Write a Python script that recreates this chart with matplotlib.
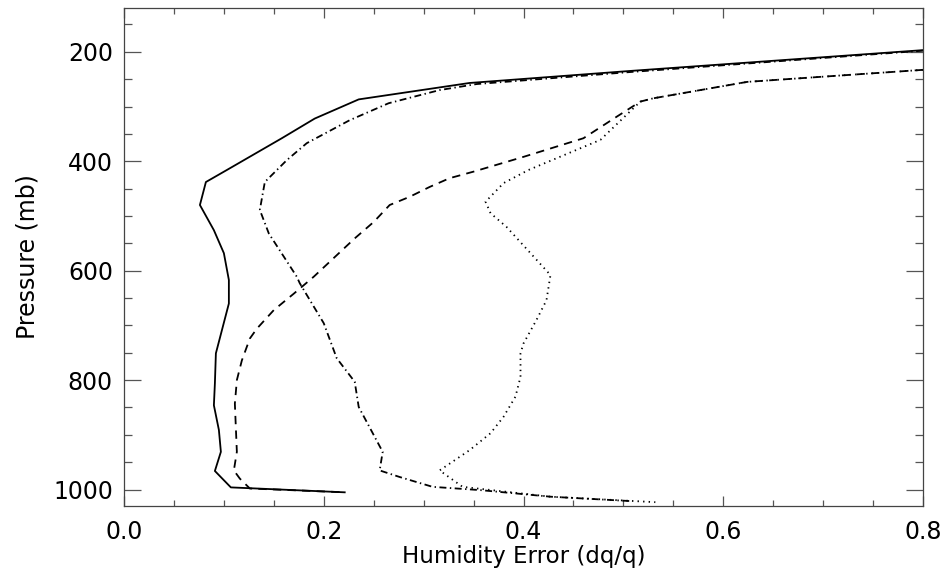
import matplotlib
matplotlib.use("Agg")
import matplotlib.pyplot as plt
from matplotlib.ticker import MultipleLocator, FormatStrFormatter

plt.rcParams['font.family'] = ['DejaVu Sans']
plt.rcParams['lines.scale_dashes'] = False

# Solid
solid_x = [0.800, 0.507, 0.346, 0.235, 0.191, 0.158, 0.103, 0.082, 0.076, 0.090, 0.100,
           0.105, 0.105, 0.092, 0.091, 0.090, 0.095, 0.097, 0.091, 0.107, 0.221]
solid_p = [197, 235, 257, 287, 322, 358, 416, 438, 480, 526, 568,
           617, 660, 751, 806, 846, 891, 931, 966, 996, 1005]

# Dash-dot
dashdot_x = [0.800, 0.507, 0.353, 0.316, 0.265, 0.226, 0.183, 0.163, 0.141, 0.136, 0.145,
             0.173, 0.176, 0.200, 0.213, 0.231, 0.235, 0.259, 0.256, 0.276, 0.309, 0.357,
             0.427, 0.507]
dashdot_p = [198, 237, 259, 270, 294, 325, 367, 398, 438, 489, 532,
             611, 623, 696, 760, 803, 849, 931, 965, 977, 995, 1001,
             1013, 1021]

# Dashed
dashed_x = [0.800, 0.624, 0.530, 0.517, 0.493, 0.460, 0.400, 0.350, 0.326, 0.306, 0.286,
            0.266, 0.250, 0.231, 0.190, 0.170, 0.150, 0.133, 0.126, 0.118, 0.113, 0.111,
            0.113, 0.110, 0.116, 0.126, 0.221]
dashed_p = [233, 255, 285, 291, 319, 358, 392, 419, 431, 447, 465,
            480, 511, 541, 611, 642, 672, 706, 724, 764, 800, 843,
            931, 965, 980, 998, 1005]

# Dotted
dotted_x = [0.800, 0.624, 0.530, 0.517, 0.477, 0.405, 0.380, 0.362, 0.367, 0.383, 0.427,
            0.423, 0.413, 0.400, 0.397, 0.397, 0.392, 0.380, 0.367, 0.346, 0.316, 0.339,
            0.427, 0.532]
dotted_p = [233, 255, 285, 291, 361, 416, 440, 474, 495, 520, 608,
            654, 690, 733, 751, 794, 830, 867, 897, 928, 965, 995,
            1013, 1023]

fig = plt.figure(figsize=(9.45, 5.73), dpi=100)
ax = fig.add_axes([124/945, 1-506/573, (923-124)/945, (506-8)/573])

lw = 1.3
ax.plot(solid_x, solid_p, color='black', lw=lw, linestyle='-')
ax.plot(dashdot_x, dashdot_p, color='black', lw=lw, linestyle=(0, (5, 2.5, 1, 2.5)))
ax.plot(dashed_x, dashed_p, color='black', lw=lw, linestyle=(0, (6, 4.5)))
ax.plot(dotted_x, dotted_p, color='black', lw=lw, linestyle=(0, (1, 3)))

ax.set_xlim(0.0, 0.8)
ax.set_ylim(1030, 120)
ax.xaxis.set_major_locator(MultipleLocator(0.2))
ax.xaxis.set_minor_locator(MultipleLocator(0.05))
ax.yaxis.set_major_locator(MultipleLocator(200))
ax.yaxis.set_minor_locator(MultipleLocator(50))
ax.xaxis.set_major_formatter(FormatStrFormatter('%.1f'))
ax.yaxis.set_major_formatter(FormatStrFormatter('%d'))

for s in ax.spines.values():
    s.set_color('#444444')
    s.set_linewidth(0.9)

ax.tick_params(axis='both', which='both', direction='in', top=True, right=True,
               colors='#555555', labelcolor='black', width=0.9)
ax.tick_params(axis='x', which='major', length=7.5, pad=10, labelsize=17)
ax.tick_params(axis='x', which='minor', length=4)
ax.tick_params(axis='y', which='major', length=12, pad=8, labelsize=17)
ax.tick_params(axis='y', which='minor', length=6)

ax.set_xlabel('Humidity Error (dq/q)', fontsize=16.5, labelpad=0.5)
ax.set_ylabel('Pressure (mb)', fontsize=17, labelpad=10)

fig.savefig('out.png', dpi=100)
